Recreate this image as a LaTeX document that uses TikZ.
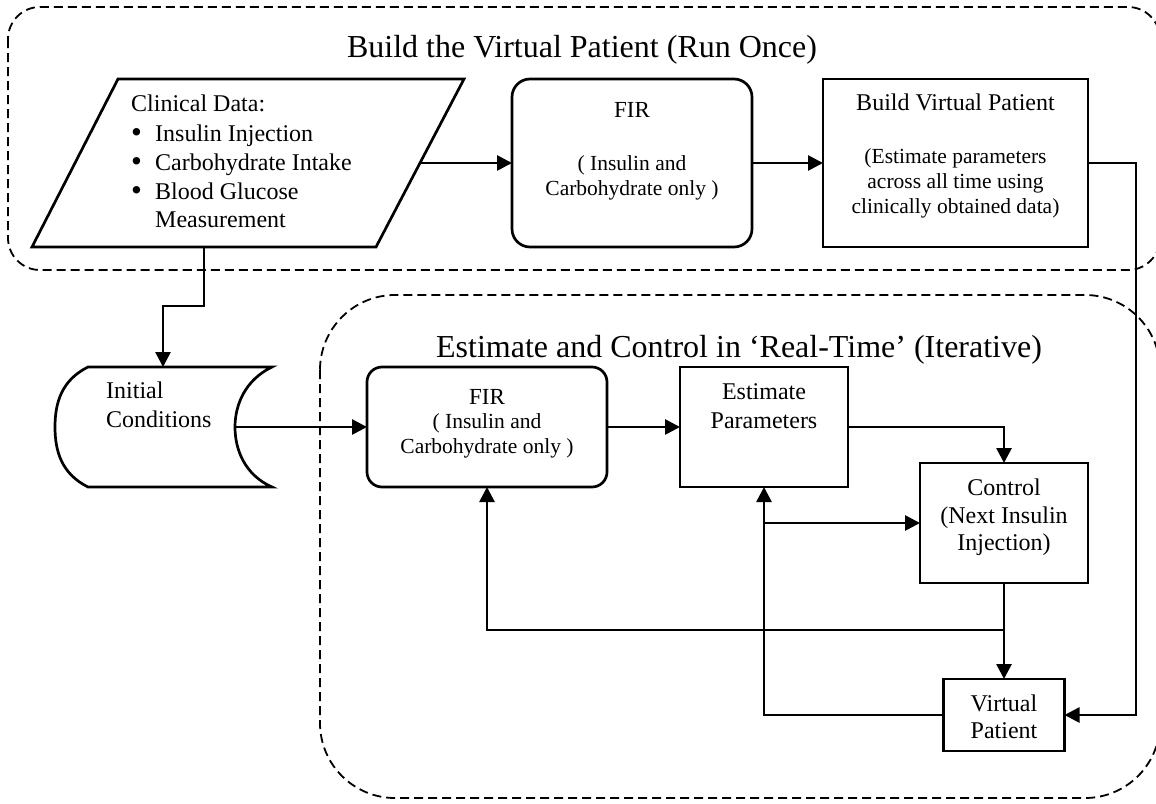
\documentclass[tikz,border=0pt]{standalone}
\usepackage{fontspec}
\setmainfont{Liberation Serif}
\usetikzlibrary{arrows.meta}
\newcommand{\bigbul}{\makebox[24pt][l]{\raisebox{-1pt}{\fontsize{31}{29}\selectfont\textbullet}}}
\begin{document}
\begin{tikzpicture}[x=1pt,y=-1pt,
  box/.style={draw, line width=2.7pt, inner sep=0pt, outer sep=0pt},
  rbox/.style={box, rounded corners=18pt},
  group/.style={draw, line width=1.8pt, dash pattern=on 9pt off 5pt},
  conn/.style={line width=2.7pt},
  arr/.style={conn, -{Triangle[length=15pt,width=15pt]}},
  ttl/.style={anchor=base, inner sep=0pt, font=\fontsize{32}{38}\selectfont},
  txt/.style={anchor=base, inner sep=0pt, font=\fontsize{24}{29}\selectfont},
  ltxt/.style={anchor=base west, inner sep=0pt, font=\fontsize{24}{29}\selectfont},
  stxt/.style={anchor=base, inner sep=0pt, font=\fontsize{21.5}{25}\selectfont},
]
\useasboundingbox (0,0) rectangle (1156,803);
\clip (0,0) rectangle (1156,803);
\fill[white] (0,0) rectangle (1156,803);

% groups
\draw[group, rounded corners=32pt] (8,7) rectangle (1160,270);
\draw[group, rounded corners=75pt] (320,295) rectangle (1160,798);
\node[ttl] (t1) at (582,57) {Build the Virtual Patient (Run Once)};
\node[ttl] (t2) at (739,357) {Estimate and Control in ‘Real-Time’ (Iterative)};

% clinical data parallelogram
\draw[line width=2.7pt, line join=miter] (118,79) -- (464,79) -- (376,247) -- (32,247) -- cycle;
\coordinate (cdr) at (420,163);
\coordinate (cdb) at (204,247);
\node[ltxt] (cd1) at (131,111) {Clinical Data:};
\node[ltxt] (cd2) at (131,141) {\bigbul Insulin Injection};
\node[ltxt] (cd3) at (131,170) {\bigbul Carbohydrate Intake};
\node[ltxt] (cd4) at (131,199) {\bigbul Blood Glucose};
\node[ltxt] (cd5) at (155,227) {Measurement};

% FIR top
\node[rbox, minimum width=240pt, minimum height=168pt] (fir1) at (632,163) {};
\node[stxt, font=\fontsize{23}{25}\selectfont] (fir1a) at (632,117) {FIR};
\node[stxt] (fir1b) at (632,170) {( Insulin and};
\node[stxt] (fir1c) at (632,195) {Carbohydrate only )};

% Build virtual patient
\node[box, minimum width=265pt, minimum height=168pt] (bvp) at (955.5,163) {};
\node[txt] (bvpa) at (955.5,110) {Build Virtual Patient};
\node[stxt] (bvpb) at (955.5,163) {(Estimate parameters};
\node[stxt] (bvpc) at (955.5,188) {across all time using};
\node[stxt] (bvpd) at (955.5,213) {clinically obtained data)};

% Initial conditions (stored data)
\draw[line width=2.7pt] (88,367) -- (272,367)
  .. controls (245,380) and (235,405) .. (235,427)
  .. controls (235,450) and (245,475) .. (272,487)
  -- (88,487)
  .. controls (62,474) and (55,452) .. (55,427)
  .. controls (55,402) and (62,380) .. (88,367) -- cycle;
\coordinate (ictop) at (163,367);
\coordinate (icout) at (235,427);
\node[ltxt] (ica) at (106,398) {Initial};
\node[ltxt] (icb) at (106,427) {Conditions};

% FIR bottom
\node[box, rounded corners=15pt, minimum width=240pt, minimum height=120pt] (fir2) at (487,427) {};
\node[stxt, font=\fontsize{23}{25}\selectfont] (fir2a) at (487,404) {FIR};
\node[stxt] (fir2b) at (487,428) {( Insulin and};
\node[stxt] (fir2c) at (487,453) {Carbohydrate only )};

% Estimate parameters
\node[box, minimum width=168pt, minimum height=120pt] (ep) at (764,427) {};
\node[txt] (epa) at (764,399) {Estimate};
\node[txt] (epb) at (764,428) {Parameters};

% Control
\node[box, minimum width=168pt, minimum height=120pt] (ctrl) at (1004,523) {};
\node[txt] (ctrla) at (1004,495) {Control};
\node[txt] (ctrlb) at (1004,523) {(Next Insulin};
\node[txt] (ctrlc) at (1004,550) {Injection)};

% Virtual patient
\node[box, minimum width=121pt, minimum height=72pt] (vp) at (1004,715) {};
\node[txt] (vpa) at (1004,711) {Virtual};
\node[txt] (vpb) at (1004,738) {Patient};

% connectors
\draw[arr] (cdr) -- (fir1.west);
\draw[arr] (fir1.east) -- (bvp.west);
\draw[arr] (bvp.east) -- (1136,163) -- (1136,715) -- (vp.east);
\draw[arr] (cdb) -- (204,306) -- (163,306) -- (ictop);
\draw[arr] (icout) -- (fir2.west);
\draw[arr] (fir2.east) -- (ep.west);
\draw[arr] (ep.east) -- (ctrl.north |- ep.east) -- (ctrl.north);
\draw[arr] (ctrl.south) -- (vp.north);
\coordinate (fb) at (1004,630);
\draw[arr] (fb) -- (fir2.south |- fb) -- (fir2.south);
\draw[arr] (vp.west) -- (ep.south |- vp.west) -- (ep.south);
\draw[arr] (ep.south |- ctrl.west) -- (ctrl.west);
\end{tikzpicture}
\end{document}
